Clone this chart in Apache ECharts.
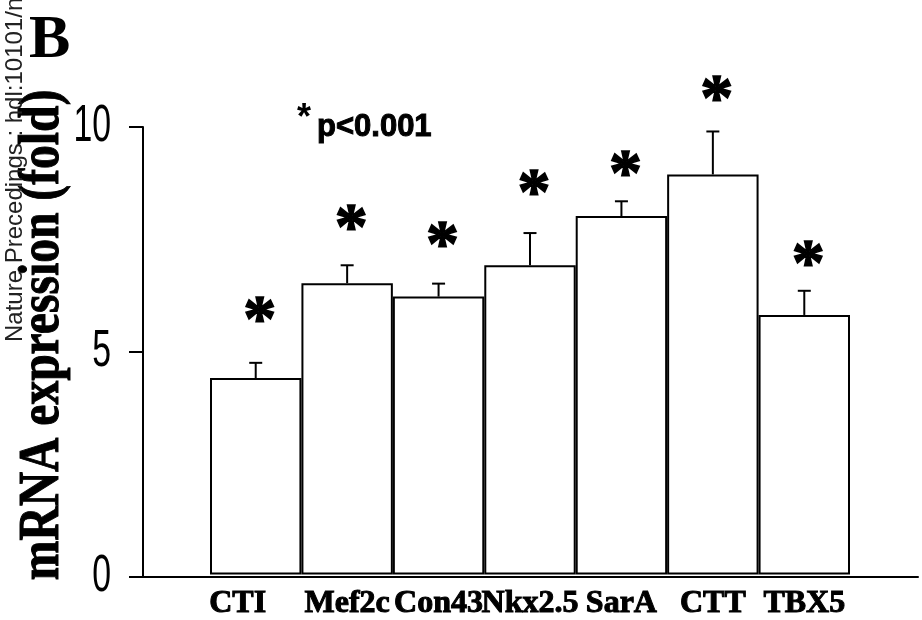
<!DOCTYPE html>
<html>
<head>
<meta charset="utf-8">
<script src="https://cdn.jsdelivr.net/npm/echarts@6/dist/echarts.min.js"></script>
<style>html,body{margin:0;padding:0;background:#fff;}#c{width:922px;height:620px;}</style>
</head>
<body>
<div id="c"></div>
<script>
const categories = ['CTI', 'Mef2c', 'Con43', 'Nkx2.5', 'SarA', 'CTT', 'TBX5'];
const means = [4.39, 6.51, 6.21, 6.91, 8.01, 8.94, 5.80];
const errors = [0.34, 0.40, 0.29, 0.72, 0.33, 0.96, 0.54];
const starLevels = [5.82, 7.87, 7.49, 8.67, 9.09, 10.76, 7.07];
const yTicks = [0, 5, 10];

const serif = "'Liberation Serif', 'Times New Roman', serif";
const sans = "'Liberation Sans', Arial, sans-serif";

const chart = echarts.init(document.getElementById('c'), null, {renderer: 'canvas'});

const errData = means.map((m, i) => [i, m, m + errors[i]]);
const starData = starLevels.map((s, i) => [i, s]);
const tickData = yTicks.map(v => [0, v]);

const option = {
  backgroundColor: '#fff',
  animation: false,
  grid: [
    {left: 143, right: 4, top: 127, bottom: 43},
    {left: 210, right: 72, top: 127, bottom: 43}
  ],
  xAxis: [
    {type: 'value', gridIndex: 0, min: 0, max: 1, axisLine: {show: true, lineStyle: {color: '#000', width: 2}},
     axisTick: {show: false}, axisLabel: {show: false}, splitLine: {show: false}},
    {type: 'category', gridIndex: 1, data: categories, boundaryGap: true,
     axisLine: {show: false}, axisTick: {show: false}, splitLine: {show: false},
     axisLabel: {
       interval: 0, margin: 13, color: '#000', fontFamily: serif, fontWeight: 'bold', fontSize: 32,
       textBorderColor: '#000', textBorderWidth: 1,
       formatter: v => v === 'CTI' ? '{a|' + v + '}' : v,
       rich: {a: {fontFamily: serif, fontWeight: 'bold', fontSize: 32, color: '#000', textBorderColor: '#000', textBorderWidth: 1, padding: [0, 36, 0, 0]}}
     }}
  ],
  yAxis: [
    {type: 'value', gridIndex: 0, min: yTicks[0], max: yTicks[yTicks.length - 1], interval: 5,
     axisLine: {show: true, lineStyle: {color: '#000', width: 2}},
     axisTick: {show: true, inside: false, length: 14, lineStyle: {color: '#000', width: 2}},
     splitLine: {show: false},
     axisLabel: {show: false}},
    {type: 'value', gridIndex: 1, min: 0, max: 10, show: false}
  ],
  series: [
    {type: 'bar', xAxisIndex: 1, yAxisIndex: 1, data: means, barWidth: '100%', barGap: '0%',
     itemStyle: {color: '#fff', borderColor: '#000', borderWidth: 2}, z: 2},
    {type: 'custom', xAxisIndex: 1, yAxisIndex: 1, data: errData, z: 3, clip: false,
     renderItem: function (params, api) {
       const p0 = api.coord([api.value(0), api.value(1)]);
       const p1 = api.coord([api.value(0), api.value(2)]);
       const hw = 6.5;
       return {type: 'group', children: [
         {type: 'line', shape: {x1: p0[0], y1: p0[1], x2: p1[0], y2: p1[1]}, style: {stroke: '#000', lineWidth: 2}},
         {type: 'line', shape: {x1: p1[0] - hw, y1: p1[1], x2: p1[0] + hw, y2: p1[1]}, style: {stroke: '#000', lineWidth: 2}}
       ]};
     }},
    {type: 'custom', xAxisIndex: 1, yAxisIndex: 1, data: starData, z: 4, clip: false,
     renderItem: function (params, api) {
       const p = api.coord([api.value(0), api.value(1)]);
       return {type: 'text', x: p[0] + 4, y: p[1] + 9,
         style: {text: '*', fill: '#000', stroke: '#000', lineWidth: 1.5, font: 'bold 66px ' + serif, align: 'center', verticalAlign: 'middle'}};
     }},
    {type: 'custom', xAxisIndex: 0, yAxisIndex: 0, data: tickData, z: 4, clip: false,
     renderItem: function (params, api) {
       const p = api.coord([api.value(0), api.value(1)]);
       return {type: 'text', x: p[0] - 32, y: p[1], scaleX: 0.65,
         style: {text: String(api.value(1)), fill: '#000', font: '52px ' + sans, align: 'right', verticalAlign: 'middle'}};
     }}
  ],
  graphic: [
    {type: 'text', x: 29, y: 41, style: {text: 'B', fill: '#000', font: 'bold 62px ' + serif, align: 'left', verticalAlign: 'middle'}},
    {type: 'text', x: 297, y: 119, style: {text: '*', fill: '#000', font: 'bold 36px ' + sans, align: 'left', verticalAlign: 'middle'}},
    {type: 'text', x: 317, y: 127, style: {text: 'p<0.001', fill: '#000', stroke: '#000', lineWidth: 1, font: 'bold 31px ' + sans, align: 'left', verticalAlign: 'middle'}},
    {type: 'text', x: 43, y: 335, rotation: Math.PI / 2, scaleX: 0.82, scaleY: 1,
     style: {text: 'mRNA expression (fold)', fill: '#000', stroke: '#000', lineWidth: 1, font: 'bold 58px ' + serif, align: 'center', verticalAlign: 'middle'}},
    {type: 'text', x: 15, y: 342, rotation: Math.PI / 2,
     style: {text: 'Nature Precedings : hdl:10101/npre.2008.1735.1', fill: '#222', font: '24px ' + sans, align: 'left', verticalAlign: 'middle'}}
  ]
};
chart.setOption(option);
</script>
</body>
</html>
